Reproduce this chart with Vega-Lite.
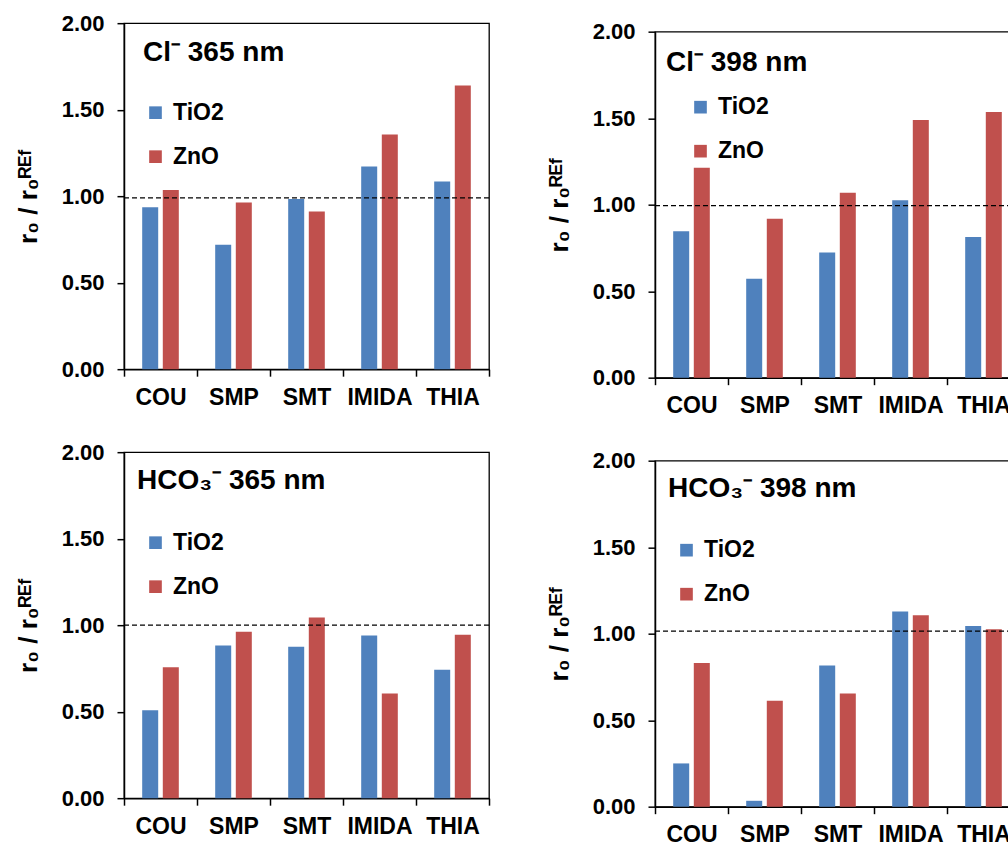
{
  "$schema": "https://vega.github.io/schema/vega-lite/v6.json",
  "padding": {"left": 14, "top": 11, "right": 0, "bottom": 0},
  "background": "white",
  "datasets": {
    "bars": [
      {"panel": "Cl365", "compound": "COU", "catalyst": "TiO2", "value": 0.936},
      {"panel": "Cl365", "compound": "COU", "catalyst": "ZnO", "value": 1.036},
      {"panel": "Cl365", "compound": "SMP", "catalyst": "TiO2", "value": 0.719},
      {"panel": "Cl365", "compound": "SMP", "catalyst": "ZnO", "value": 0.963},
      {"panel": "Cl365", "compound": "SMT", "catalyst": "TiO2", "value": 0.983},
      {"panel": "Cl365", "compound": "SMT", "catalyst": "ZnO", "value": 0.911},
      {"panel": "Cl365", "compound": "IMIDA", "catalyst": "TiO2", "value": 1.172},
      {"panel": "Cl365", "compound": "IMIDA", "catalyst": "ZnO", "value": 1.357},
      {"panel": "Cl365", "compound": "THIA", "catalyst": "TiO2", "value": 1.085},
      {"panel": "Cl365", "compound": "THIA", "catalyst": "ZnO", "value": 1.640},
      {"panel": "Cl398", "compound": "COU", "catalyst": "TiO2", "value": 0.846},
      {"panel": "Cl398", "compound": "COU", "catalyst": "ZnO", "value": 1.214},
      {"panel": "Cl398", "compound": "SMP", "catalyst": "TiO2", "value": 0.572},
      {"panel": "Cl398", "compound": "SMP", "catalyst": "ZnO", "value": 0.919},
      {"panel": "Cl398", "compound": "SMT", "catalyst": "TiO2", "value": 0.724},
      {"panel": "Cl398", "compound": "SMT", "catalyst": "ZnO", "value": 1.069},
      {"panel": "Cl398", "compound": "IMIDA", "catalyst": "TiO2", "value": 1.025},
      {"panel": "Cl398", "compound": "IMIDA", "catalyst": "ZnO", "value": 1.489},
      {"panel": "Cl398", "compound": "THIA", "catalyst": "TiO2", "value": 0.813},
      {"panel": "Cl398", "compound": "THIA", "catalyst": "ZnO", "value": 1.536},
      {"panel": "HCO365", "compound": "COU", "catalyst": "TiO2", "value": 0.508},
      {"panel": "HCO365", "compound": "COU", "catalyst": "ZnO", "value": 0.757},
      {"panel": "HCO365", "compound": "SMP", "catalyst": "TiO2", "value": 0.883},
      {"panel": "HCO365", "compound": "SMP", "catalyst": "ZnO", "value": 0.962},
      {"panel": "HCO365", "compound": "SMT", "catalyst": "TiO2", "value": 0.875},
      {"panel": "HCO365", "compound": "SMT", "catalyst": "ZnO", "value": 1.044},
      {"panel": "HCO365", "compound": "IMIDA", "catalyst": "TiO2", "value": 0.941},
      {"panel": "HCO365", "compound": "IMIDA", "catalyst": "ZnO", "value": 0.605},
      {"panel": "HCO365", "compound": "THIA", "catalyst": "TiO2", "value": 0.743},
      {"panel": "HCO365", "compound": "THIA", "catalyst": "ZnO", "value": 0.944},
      {"panel": "HCO398", "compound": "COU", "catalyst": "TiO2", "value": 0.250},
      {"panel": "HCO398", "compound": "COU", "catalyst": "ZnO", "value": 0.830},
      {"panel": "HCO398", "compound": "SMP", "catalyst": "TiO2", "value": 0.034},
      {"panel": "HCO398", "compound": "SMP", "catalyst": "ZnO", "value": 0.612},
      {"panel": "HCO398", "compound": "SMT", "catalyst": "TiO2", "value": 0.816},
      {"panel": "HCO398", "compound": "SMT", "catalyst": "ZnO", "value": 0.654},
      {"panel": "HCO398", "compound": "IMIDA", "catalyst": "TiO2", "value": 1.128},
      {"panel": "HCO398", "compound": "IMIDA", "catalyst": "ZnO", "value": 1.107},
      {"panel": "HCO398", "compound": "THIA", "catalyst": "TiO2", "value": 1.044},
      {"panel": "HCO398", "compound": "THIA", "catalyst": "ZnO", "value": 1.025}
    ],
    "refs": [
      {"panel": "Cl365", "ref": 0.99, "label": "Cl⁻ 365 nm"},
      {"panel": "Cl398", "ref": 0.995, "label": "Cl⁻ 398 nm"},
      {"panel": "HCO365", "ref": 1.0, "label": "HCO₃⁻ 365 nm"},
      {"panel": "HCO398", "ref": 1.015, "label": "HCO₃⁻ 398 nm"}
    ]
  },
  "config": {
    "font": "Liberation Sans",
    "view": {"stroke": "black", "strokeWidth": 1.3},
    "axis": {
      "domainColor": "black", "tickColor": "black", "domainWidth": 1.5, "tickWidth": 1.5,
      "tickSize": 7, "labelColor": "black", "labelFont": "Liberation Sans", "labelFontWeight": "bold",
      "grid": false, "titleColor": "black", "titleFont": "Liberation Sans"
    },
    "axisX": {"labelFontSize": 23, "labelAngle": 0, "title": null, "tickBand": "extent", "labelPadding": 10},
    "axisY": {"labelFontSize": 22, "labelPadding": 13, "titleFontSize": 26, "titleFontWeight": "bold", "titlePadding": 20},
    "legend": {
      "symbolType": "square", "symbolSize": 160, "labelFontSize": 23, "labelFontWeight": "bold",
      "labelColor": "black", "labelFont": "Liberation Sans", "rowPadding": 20, "labelOffset": 6,
      "padding": 0, "symbolStrokeWidth": 0, "symbolOpacity": 1, "title": null
    }
  },
  "center": true,
  "spacing": 54,
  "resolve": {"scale": {"color": "independent"}, "legend": {"color": "independent"}},
  "hconcat": [
    {
      "title": {"text": " ", "orient": "bottom", "fontSize": 9, "offset": 8},
      "spacing": 30,
      "resolve": {"scale": {"color": "independent"}, "legend": {"color": "independent"}},
      "vconcat": [
        {
          "width": 365, "height": 346,
          "layer": [
            {
              "data": {"name": "bars"},
              "transform": [{"filter": "datum.panel === 'Cl365'"}],
              "mark": {"type": "bar"},
              "encoding": {
                "x": {"field": "compound", "type": "nominal", "sort": null, "scale": {"domain": ["COU", "SMP", "SMT", "IMIDA", "THIA"], "paddingInner": 0, "paddingOuter": 0}},
                "xOffset": {"field": "catalyst", "type": "nominal", "scale": {"domain": ["TiO2", "ZnO"], "paddingInner": 0.223, "paddingOuter": 0.883}},
                "y": {"field": "value", "type": "quantitative", "title": "r₀ / r₀ᴿᴱᶠ", "scale": {"domain": [0, 2], "nice": false}, "axis": {"values": [0, 0.5, 1, 1.5, 2], "format": ".2f"}},
                "color": {"field": "catalyst", "type": "nominal", "scale": {"domain": ["TiO2", "ZnO"], "range": ["#4F81BD", "#C0504D"]}, "legend": {"orient": "none", "legendX": 20, "legendY": 78}}
              }
            },
            {
              "data": {"name": "refs"},
              "transform": [{"filter": "datum.panel === 'Cl365'"}],
              "mark": {"type": "rule", "strokeDash": [5, 3], "strokeWidth": 1.3, "color": "black"},
              "encoding": {"y": {"field": "ref", "type": "quantitative"}}
            },
            {
              "data": {"name": "refs"},
              "transform": [{"filter": "datum.panel === 'Cl365'"}],
              "mark": {"type": "text", "fontSize": 28, "fontWeight": "bold", "align": "left", "baseline": "alphabetic", "dx": 19, "color": "black"},
              "encoding": {"x": {"datum": "COU", "bandPosition": 0}, "y": {"datum": 1.78}, "text": {"field": "label"}}
            }
          ]
        },
        {
          "width": 365, "height": 346,
          "layer": [
            {
              "data": {"name": "bars"},
              "transform": [{"filter": "datum.panel === 'HCO365'"}],
              "mark": {"type": "bar"},
              "encoding": {
                "x": {"field": "compound", "type": "nominal", "sort": null, "scale": {"domain": ["COU", "SMP", "SMT", "IMIDA", "THIA"], "paddingInner": 0, "paddingOuter": 0}},
                "xOffset": {"field": "catalyst", "type": "nominal", "scale": {"domain": ["TiO2", "ZnO"], "paddingInner": 0.223, "paddingOuter": 0.883}},
                "y": {"field": "value", "type": "quantitative", "title": "r₀ / r₀ᴿᴱᶠ", "scale": {"domain": [0, 2], "nice": false}, "axis": {"values": [0, 0.5, 1, 1.5, 2], "format": ".2f"}},
                "color": {"field": "catalyst", "type": "nominal", "scale": {"domain": ["TiO2", "ZnO"], "range": ["#4F81BD", "#C0504D"]}, "legend": {"orient": "none", "legendX": 20, "legendY": 79}}
              }
            },
            {
              "data": {"name": "refs"},
              "transform": [{"filter": "datum.panel === 'HCO365'"}],
              "mark": {"type": "rule", "strokeDash": [5, 3], "strokeWidth": 1.3, "color": "black"},
              "encoding": {"y": {"field": "ref", "type": "quantitative"}}
            },
            {
              "data": {"name": "refs"},
              "transform": [{"filter": "datum.panel === 'HCO365'"}],
              "mark": {"type": "text", "fontSize": 28, "fontWeight": "bold", "align": "left", "baseline": "alphabetic", "dx": 13, "color": "black"},
              "encoding": {"x": {"datum": "COU", "bandPosition": 0}, "y": {"datum": 1.785}, "text": {"field": "label"}}
            }
          ]
        }
      ]
    },
    {
      "spacing": 30,
      "resolve": {"scale": {"color": "independent"}, "legend": {"color": "independent"}},
      "vconcat": [
        {
          "width": 365, "height": 346,
          "layer": [
            {
              "data": {"name": "bars"},
              "transform": [{"filter": "datum.panel === 'Cl398'"}],
              "mark": {"type": "bar"},
              "encoding": {
                "x": {"field": "compound", "type": "nominal", "sort": null, "scale": {"domain": ["COU", "SMP", "SMT", "IMIDA", "THIA"], "paddingInner": 0, "paddingOuter": 0}},
                "xOffset": {"field": "catalyst", "type": "nominal", "scale": {"domain": ["TiO2", "ZnO"], "paddingInner": 0.223, "paddingOuter": 0.883}},
                "y": {"field": "value", "type": "quantitative", "title": "r₀ / r₀ᴿᴱᶠ", "scale": {"domain": [0, 2], "nice": false}, "axis": {"values": [0, 0.5, 1, 1.5, 2], "format": ".2f"}},
                "color": {"field": "catalyst", "type": "nominal", "scale": {"domain": ["TiO2", "ZnO"], "range": ["#4F81BD", "#C0504D"]}, "legend": {"orient": "none", "legendX": 34, "legendY": 64}}
              }
            },
            {
              "data": {"name": "refs"},
              "transform": [{"filter": "datum.panel === 'Cl398'"}],
              "mark": {"type": "rule", "strokeDash": [5, 3], "strokeWidth": 1.3, "color": "black"},
              "encoding": {"y": {"field": "ref", "type": "quantitative"}}
            },
            {
              "data": {"name": "refs"},
              "transform": [{"filter": "datum.panel === 'Cl398'"}],
              "mark": {"type": "text", "fontSize": 28, "fontWeight": "bold", "align": "left", "baseline": "alphabetic", "dx": 11, "color": "black"},
              "encoding": {"x": {"datum": "COU", "bandPosition": 0}, "y": {"datum": 1.775}, "text": {"field": "label"}}
            }
          ]
        },
        {
          "width": 365, "height": 346,
          "layer": [
            {
              "data": {"name": "bars"},
              "transform": [{"filter": "datum.panel === 'HCO398'"}],
              "mark": {"type": "bar"},
              "encoding": {
                "x": {"field": "compound", "type": "nominal", "sort": null, "scale": {"domain": ["COU", "SMP", "SMT", "IMIDA", "THIA"], "paddingInner": 0, "paddingOuter": 0}},
                "xOffset": {"field": "catalyst", "type": "nominal", "scale": {"domain": ["TiO2", "ZnO"], "paddingInner": 0.223, "paddingOuter": 0.883}},
                "y": {"field": "value", "type": "quantitative", "title": "r₀ / r₀ᴿᴱᶠ", "scale": {"domain": [0, 2], "nice": false}, "axis": {"values": [0, 0.5, 1, 1.5, 2], "format": ".2f"}},
                "color": {"field": "catalyst", "type": "nominal", "scale": {"domain": ["TiO2", "ZnO"], "range": ["#4F81BD", "#C0504D"]}, "legend": {"orient": "none", "legendX": 20, "legendY": 78}}
              }
            },
            {
              "data": {"name": "refs"},
              "transform": [{"filter": "datum.panel === 'HCO398'"}],
              "mark": {"type": "rule", "strokeDash": [5, 3], "strokeWidth": 1.3, "color": "black"},
              "encoding": {"y": {"field": "ref", "type": "quantitative"}}
            },
            {
              "data": {"name": "refs"},
              "transform": [{"filter": "datum.panel === 'HCO398'"}],
              "mark": {"type": "text", "fontSize": 28, "fontWeight": "bold", "align": "left", "baseline": "alphabetic", "dx": 13, "color": "black"},
              "encoding": {"x": {"datum": "COU", "bandPosition": 0}, "y": {"datum": 1.788}, "text": {"field": "label"}}
            }
          ]
        }
      ]
    }
  ]
}
